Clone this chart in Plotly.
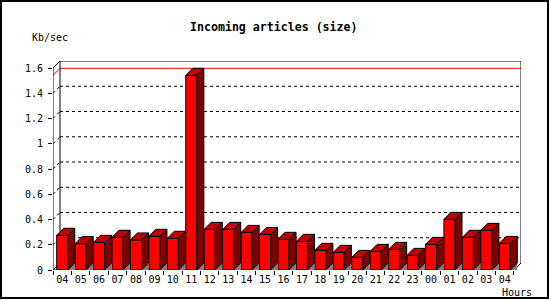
import plotly.graph_objects as go

# ---- data ----
hours = ["04", "05", "06", "07", "08", "09", "10", "11", "12", "13", "14", "15",
         "16", "17", "18", "19", "20", "21", "22", "23", "00", "01", "02", "03", "04"]
kb_per_sec = [0.275, 0.209, 0.219, 0.259, 0.238, 0.267, 0.251, 1.542, 0.322, 0.322,
              0.298, 0.282, 0.243, 0.227, 0.156, 0.140, 0.100, 0.148, 0.164, 0.116,
              0.203, 0.401, 0.259, 0.314, 0.211]
y_ticks = [0, 0.2, 0.4, 0.6, 0.8, 1.0, 1.2, 1.4, 1.6]
title = "Incoming articles (size)"
y_label = "Kb/sec"
x_label = "Hours"

# ---- geometry / style ----
W, H = 550, 300
ML, MR, MT, MB = 53, 29, 61, 30
slot_px = 18.4
px_per_unit_y = 25.25 / 0.2
depth_px = 7
n = len(hours)
dx = depth_px / slot_px
dy = depth_px / px_per_unit_y
ytop = y_ticks[-1]
x_lo, x_hi = -0.5, n - 0.5
bar_w = 0.6
FRONT, TOP, SIDE, SHADOW = "#ff0000", "#c00000", "#800000", "#808080"
FONT = "DejaVu Sans Mono"

fig = go.Figure()

# front faces
fig.add_trace(go.Bar(x=list(range(n)), y=kb_per_sec, width=bar_w,
                     marker=dict(color=FRONT, line=dict(color="black", width=1)),
                     hoverinfo="skip", showlegend=False))

def polys(fn):
    xs, ys = [], []
    for i, v in enumerate(kb_per_sec):
        px, py = fn(i, v)
        xs += px + [px[0], None]
        ys += py + [py[0], None]
    return xs, ys

# shadows on floor
sx, sy = polys(lambda i, v: ([i + bar_w / 2, i + bar_w / 2 + dx, i + bar_w / 2 + dx],
                             [0, dy, 0]))
fig.add_trace(go.Scatter(x=sx, y=sy, mode="lines", fill="toself", fillcolor=SHADOW,
                         line=dict(color=SHADOW, width=0), hoverinfo="skip", showlegend=False))
# side faces
sx, sy = polys(lambda i, v: ([i + bar_w / 2, i + bar_w / 2, i + bar_w / 2 + dx, i + bar_w / 2 + dx],
                             [0, v, v + dy, dy]))
fig.add_trace(go.Scatter(x=sx, y=sy, mode="lines", fill="toself", fillcolor=SIDE,
                         line=dict(color="black", width=1), hoverinfo="skip", showlegend=False))
# top faces
sx, sy = polys(lambda i, v: ([i - bar_w / 2, i - bar_w / 2 + dx, i + bar_w / 2 + dx, i + bar_w / 2],
                             [v, v + dy, v + dy, v]))
fig.add_trace(go.Scatter(x=sx, y=sy, mode="lines", fill="toself", fillcolor=TOP,
                         line=dict(color="black", width=1), hoverinfo="skip", showlegend=False))

shapes = []
def seg(x0, y0, x1, y1, color="black", dash=None):
    shapes.append(dict(type="line", xref="x", yref="y", x0=x0, y0=y0, x1=x1, y1=y1,
                       layer="below", line=dict(color=color, width=1, dash=dash)))

# grid lines on side wall and back wall
for v in y_ticks[1:-1]:
    seg(x_lo, v, x_lo + dx, v + dy, dash="3px,3px")
    seg(x_lo + dx, v + dy, x_hi + dx, v + dy, dash="3px,3px")
# max line
m = max(kb_per_sec)
seg(x_lo, m, x_lo + dx, m + dy, color="red")
seg(x_lo + dx, m + dy, x_hi + dx, m + dy, color="red")
# frame
seg(x_lo, 0, x_lo, ytop)
seg(x_lo, ytop, x_lo + dx, ytop + dy)
seg(x_lo, 0, x_lo + dx, dy)
seg(x_lo + dx, dy, x_lo + dx, ytop + dy)
seg(x_lo + dx, ytop + dy, x_hi + dx, ytop + dy)
seg(x_hi + dx, dy, x_hi + dx, ytop + dy)
seg(x_lo, 0, x_hi, 0)
seg(x_hi, 0, x_hi + dx, dy)

pw = W - ML - MR
ph = H - MT - MB
def pxx(p):
    return (p - ML) / pw
def pxy(p):
    return (H - MB - p) / ph

# outer border
shapes.append(dict(type="rect", xref="paper", yref="paper",
                   x0=pxx(1), x1=pxx(548), y0=pxy(1), y1=pxy(298),
                   line=dict(color="black", width=2), layer="below"))

annotations = [
    dict(text=f"<b>{title}</b>", xref="paper", yref="paper", x=pxx(273.5), y=pxy(27),
         xanchor="center", yanchor="middle", showarrow=False,
         font=dict(family=FONT, size=11.6, color="black")),
    dict(text=y_label, xref="paper", yref="paper", x=pxx(30), y=pxy(37),
         xanchor="left", yanchor="middle", showarrow=False,
         font=dict(family=FONT, size=10, color="black")),
    dict(text=x_label, xref="paper", yref="paper", x=pxx(534), y=pxy(292),
         xanchor="right", yanchor="middle", showarrow=False,
         font=dict(family=FONT, size=10, color="black")),
]

fig.update_layout(
    width=W, height=H, margin=dict(l=ML, r=MR, t=MT, b=MB),
    paper_bgcolor="white", plot_bgcolor="white",
    shapes=shapes, annotations=annotations, showlegend=False,
    xaxis=dict(range=[x_lo, x_hi + dx], tickvals=list(range(n)), ticktext=hours,
               ticks="", showgrid=False, zeroline=False, showline=False,
               ticklabelstandoff=2,
               tickfont=dict(family=FONT, size=10, color="black"),
               minor=dict(tickvals=[i - 0.5 for i in range(n + 1)], ticks="outside",
                          ticklen=4, tickcolor="black", tickwidth=1, showgrid=False)),
    yaxis=dict(range=[0, ytop + dy], tickvals=y_ticks, ticks="outside", ticklen=4,
               tickcolor="black", showgrid=False, zeroline=False, showline=False,
               ticklabelstandoff=3,
               tickfont=dict(family=FONT, size=10, color="black")),
)

fig.write_html("out.html")
